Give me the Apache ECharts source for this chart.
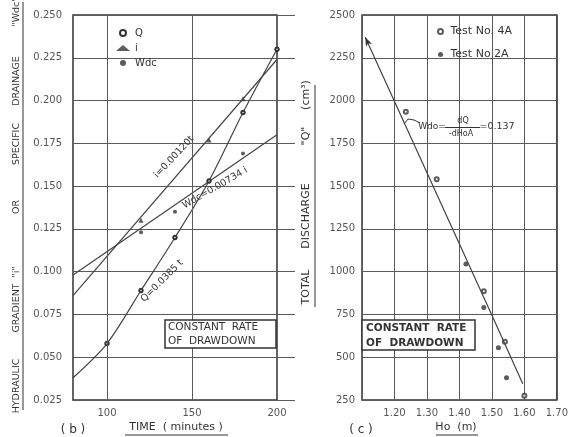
<!DOCTYPE html>
<html><head><meta charset="utf-8">
<script src="https://cdn.jsdelivr.net/npm/echarts@6/dist/echarts.min.js"></script>
<style>html,body{margin:0;padding:0;background:#fff}#c{width:571px;height:437px}</style>
</head><body><div id="c"></div>
<script>
// ---------- Chart (b): values vs TIME (minutes) ----------
const timeGridLines = [100, 150];
const qTime  = [80, 100, 120, 140, 160, 180, 200];
const qValue = [0.038, 0.058, 0.089, 0.120, 0.153, 0.193, 0.230];
const iFitTime  = [80, 200];
const iFitValue = [0.086, 0.224];
const iObsTime  = [120, 160, 180];
const iObsValue = [0.130, 0.177, 0.201];
const wdcFitTime  = [80, 200];
const wdcFitValue = [0.098, 0.180];
const wdcObsTime  = [120, 140, 180];
const wdcObsValue = [0.123, 0.135, 0.169];

// ---------- Chart (c): Q vs Ho (m) ----------
const fitHo = [1.11, 1.50, 1.595];
const fitQ  = [2370, 745, 345];
const test4AHo = [1.235, 1.33, 1.475, 1.54, 1.60];
const test4AQ  = [1935, 1540, 885, 590, 275];
const test2AHo = [1.42, 1.475, 1.52, 1.545];
const test2AQ  = [1045, 790, 555, 380];

const zip = (a, b) => a.map((v, k) => [v, b[k]]);
const FONT = 'DejaVu Sans';
const INK = '#333';
const GRID = '#5a5a5a';

const chart = echarts.init(document.getElementById('c'));

function txt(x, y, s, size, rot, opts) {
  opts = opts || {};
  const al = opts.align || 'center';
  return {
    type: 'text', x: x, y: y, rotation: rot || 0, z: 50,
    style: { text: s, fill: INK, font: (opts.weight ? opts.weight + ' ' : '') + size + 'px "' + FONT + '"',
      align: al, verticalAlign: 'middle', textAlign: al, textVerticalAlign: 'middle' }
  };
}
function line(x1, y1, x2, y2, w) {
  return { type: 'line', z: 50, shape: { x1, y1, x2, y2 }, style: { stroke: INK, lineWidth: w || 1 } };
}
const R90 = Math.PI / 2;
const deg = d => d * Math.PI / 180;

const leftTitleWords = [['HYDRAULIC', 386], ['GRADIENT', 308], ['"i"', 272], ['OR', 207], ['SPECIFIC', 144], ['DRAINAGE', 81], ['"Wdc"', 12]];
const rightTitleWords = [['TOTAL', 287], ['DISCHARGE', 216], ['"Q"', 136], ['(cm³)', 95]];

const graphics = [];
leftTitleWords.forEach(w => graphics.push(txt(17, w[1], w[0], 9.5, R90)));
graphics.push(line(23, 2, 23, 410, 1));
rightTitleWords.forEach(w => graphics.push(txt(306, w[1], w[0], 11, R90)));
graphics.push(line(315, 85, 315, 307, 1));
graphics.push(txt(176, 427, 'TIME  ( minutes )', 11));
graphics.push(line(125, 435, 228, 435, 1));
graphics.push(txt(73, 430, '( b )', 12));
graphics.push(txt(456, 427, 'Ho  (m)', 11));
graphics.push(line(436, 435, 478, 435, 1));
graphics.push(txt(361, 430, '( c )', 12));

// Constant rate boxes
graphics.push({ type: 'rect', z: 40, shape: { x: 165, y: 320, width: 111, height: 28 }, style: { fill: '#fff', stroke: INK, lineWidth: 1.5 } });
graphics.push(txt(168, 327.5, 'CONSTANT  RATE', 10.5, 0, { align: 'left' }));
graphics.push(txt(168, 341, 'OF  DRAWDOWN', 10.5, 0, { align: 'left' }));
graphics.push({ type: 'rect', z: 40, shape: { x: 362, y: 320, width: 113, height: 30 }, style: { fill: '#fff', stroke: INK, lineWidth: 1.5 } });
graphics.push(txt(366, 328, 'CONSTANT  RATE', 10.5, 0, { weight: 'bold', align: 'left' }));
graphics.push(txt(366, 343, 'OF  DRAWDOWN', 10.5, 0, { weight: 'bold', align: 'left' }));

// Slope annotations (b)
graphics.push(txt(174, 157, 'i=0.00120t', 9.5, deg(47)));
graphics.push(txt(162, 281, 'Q=0.0385 t', 9.5, deg(45)));
graphics.push(txt(215, 188, 'Wdc=0.00734 i', 9.5, deg(30)));
// Annotation (c)
graphics.push(txt(432, 127, 'Wdo=', 9));
graphics.push(line(445, 127.5, 480, 127.5, 1));
graphics.push(txt(463, 121, 'dQ', 8));
graphics.push(txt(461, 134, '-dHoA', 8));
graphics.push(txt(497, 127, '=0.137', 9.5));
graphics.push({ type: 'polyline', z: 50, shape: { points: [[404, 124], [408, 119], [414, 120], [420, 123]] }, style: { stroke: INK, lineWidth: 1, fill: 'none' } });

const axisLabelStyle = { fontFamily: FONT, fontSize: 10, color: '#555' };

const option = {
  backgroundColor: '#fff',
  animation: false,
  grid: [
    { left: 73, right: 294, top: 15, bottom: 37, show: true, borderColor: INK, borderWidth: 1.5 },
    { left: 362, right: 6, top: 15, bottom: 37, show: true, borderColor: INK, borderWidth: 1.5 }
  ],
  legend: [
    { orient: 'vertical', left: 111, top: 23, itemWidth: 14, itemHeight: 6, itemGap: 5,
      textStyle: { fontFamily: FONT, fontSize: 10, color: INK },
      data: [{ name: 'Q', icon: 'emptyCircle' }, { name: 'i', icon: 'triangle' }, { name: 'Wdc', icon: 'circle' }] },
    { orient: 'vertical', left: 432, top: 21, itemWidth: 10, itemHeight: 5, itemGap: 12,
      textStyle: { fontFamily: FONT, fontSize: 11, color: INK },
      data: [{ name: 'Test No. 4A', icon: 'emptyCircle' }, { name: 'Test No 2A', icon: 'circle' }] }
  ],
  xAxis: [
    { gridIndex: 0, type: 'value', min: 80, max: 200, interval: 10,
      axisLine: { show: false }, axisTick: { show: false }, splitLine: { show: false },
      axisLabel: Object.assign({ margin: 8, formatter: v => (v % 50 === 0 ? String(v) : '') }, axisLabelStyle) },
    { gridIndex: 1, type: 'value', min: 1.1, max: 1.7, interval: 0.1,
      axisLine: { show: false }, axisTick: { show: false },
      splitLine: { show: true, lineStyle: { color: GRID, width: 1 } },
      axisLabel: Object.assign({ margin: 8, showMinLabel: false, formatter: v => v.toFixed(2) }, axisLabelStyle) }
  ],
  yAxis: [
    { gridIndex: 0, type: 'value', min: 0.025, max: 0.250, interval: 0.025,
      axisLine: { show: false }, axisTick: { show: false },
      splitLine: { show: true, lineStyle: { color: GRID, width: 1 } },
      axisLabel: Object.assign({ margin: 11, formatter: v => v.toFixed(3) }, axisLabelStyle) },
    { gridIndex: 0, type: 'value', position: 'right', min: 250, max: 2500, interval: 250,
      axisLine: { show: false }, axisLabel: { show: false }, splitLine: { show: false },
      axisTick: { show: true, inside: false, length: 18, lineStyle: { color: GRID, width: 1 } } },
    { gridIndex: 1, type: 'value', min: 250, max: 2500, interval: 250,
      axisLine: { show: false }, axisTick: { show: false },
      splitLine: { show: true, lineStyle: { color: GRID, width: 1 } },
      axisLabel: Object.assign({ margin: 7, formatter: v => String(v) }, axisLabelStyle) }
  ],
  graphic: graphics,
  series: [
    { name: 'Q', type: 'line', xAxisIndex: 0, yAxisIndex: 0, smooth: 0.3,
      data: qTime.map((t, k) => ({ value: [t, qValue[k]], symbol: k === 0 ? 'none' : 'emptyCircle' })),
      symbolSize: 3.5, lineStyle: { color: '#444', width: 1.2 }, itemStyle: { color: INK, borderWidth: 1 },
      markLine: { silent: true, symbol: 'none', label: { show: false }, animation: false,
        lineStyle: { color: GRID, width: 1, type: 'solid' },
        data: timeGridLines.map(t => ({ xAxis: t })) } },
    { name: 'iFit', type: 'line', xAxisIndex: 0, yAxisIndex: 0, showSymbol: false,
      data: zip(iFitTime, iFitValue), lineStyle: { color: '#444', width: 1.2 } },
    { name: 'i', type: 'scatter', xAxisIndex: 0, yAxisIndex: 0, symbol: 'triangle', symbolSize: 5,
      data: zip(iObsTime, iObsValue), itemStyle: { color: INK } },
    { name: 'wdcFit', type: 'line', xAxisIndex: 0, yAxisIndex: 0, showSymbol: false,
      data: zip(wdcFitTime, wdcFitValue), lineStyle: { color: '#444', width: 1.2 } },
    { name: 'Wdc', type: 'scatter', xAxisIndex: 0, yAxisIndex: 0, symbol: 'circle', symbolSize: 4,
      data: zip(wdcObsTime, wdcObsValue), itemStyle: { color: INK } },
    { name: 'fit', type: 'line', xAxisIndex: 1, yAxisIndex: 2,
      data: fitHo.map((h, k) => ({ value: [h, fitQ[k]], symbol: k === 0 ? 'arrow' : 'none', symbolSize: [5, 9], symbolRotate: 25 })),
      lineStyle: { color: '#444', width: 1.2 }, itemStyle: { color: INK } },
    { name: 'Test No. 4A', type: 'scatter', xAxisIndex: 1, yAxisIndex: 2, symbol: 'emptyCircle', symbolSize: 4,
      data: zip(test4AHo, test4AQ), itemStyle: { color: INK, borderWidth: 1 } },
    { name: 'Test No 2A', type: 'scatter', xAxisIndex: 1, yAxisIndex: 2, symbol: 'circle', symbolSize: 5,
      data: zip(test2AHo, test2AQ), itemStyle: { color: INK } }
  ]
};
chart.setOption(option);
</script></body></html>
